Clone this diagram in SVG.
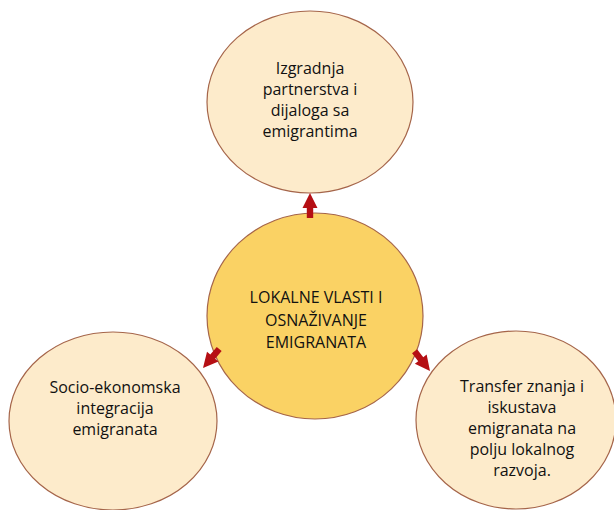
<svg xmlns="http://www.w3.org/2000/svg" width="614" height="510" viewBox="0 0 614 510">
<style>
.outer{fill:#FDEBCB;stroke:#A5654A;stroke-width:1.2}
.center{fill:#FAD264;stroke:#A5654A;stroke-width:1.2}
text{font-family:"Open Sans","Liberation Sans",sans-serif;font-size:16px;fill:#111;text-anchor:middle}
.arr{fill:#B50F14}
</style>
<defs>
<polygon id="ar" points="0,0 7.5,15 3.2,15 3.2,25 -3.2,25 -3.2,15 -7.5,15"/>
</defs>
<rect width="614" height="510" fill="#fff"/>
<g id="node-top">
<ellipse class="outer" cx="310" cy="102" rx="103" ry="91"/>
<text x="310" y="74">Izgradnja</text>
<text x="310" y="95">partnerstva i</text>
<text x="310" y="116">dijaloga sa</text>
<text x="310" y="137">emigrantima</text>
</g>
<g id="node-left">
<ellipse class="outer" cx="113" cy="421" rx="104" ry="89"/>
<text x="115" y="393">Socio-ekonomska</text>
<text x="115" y="414">integracija</text>
<text x="115" y="435">emigranata</text>
</g>
<g id="node-right">
<ellipse class="outer" cx="516" cy="420" rx="100" ry="89"/>
<text x="522" y="392">Transfer znanja i</text>
<text x="522" y="413">iskustava</text>
<text x="522" y="434">emigranata na</text>
<text x="522" y="455">polju lokalnog</text>
<text x="522" y="476">razvoja.</text>
</g>
<g id="node-center">
<ellipse class="center" cx="315" cy="316" rx="108" ry="103"/>
<text x="316" y="303">LOKALNE VLASTI I</text>
<text x="316" y="326">OSNAŽIVANJE</text>
<text x="316" y="348">EMIGRANATA</text>
</g>
<g id="connectors">
<use href="#ar" class="arr" transform="translate(310,193)"/>
<use href="#ar" class="arr" transform="translate(203,368) rotate(-139.6)"/>
<use href="#ar" class="arr" transform="translate(430,371) rotate(141.9)"/>
</g>
</svg>
